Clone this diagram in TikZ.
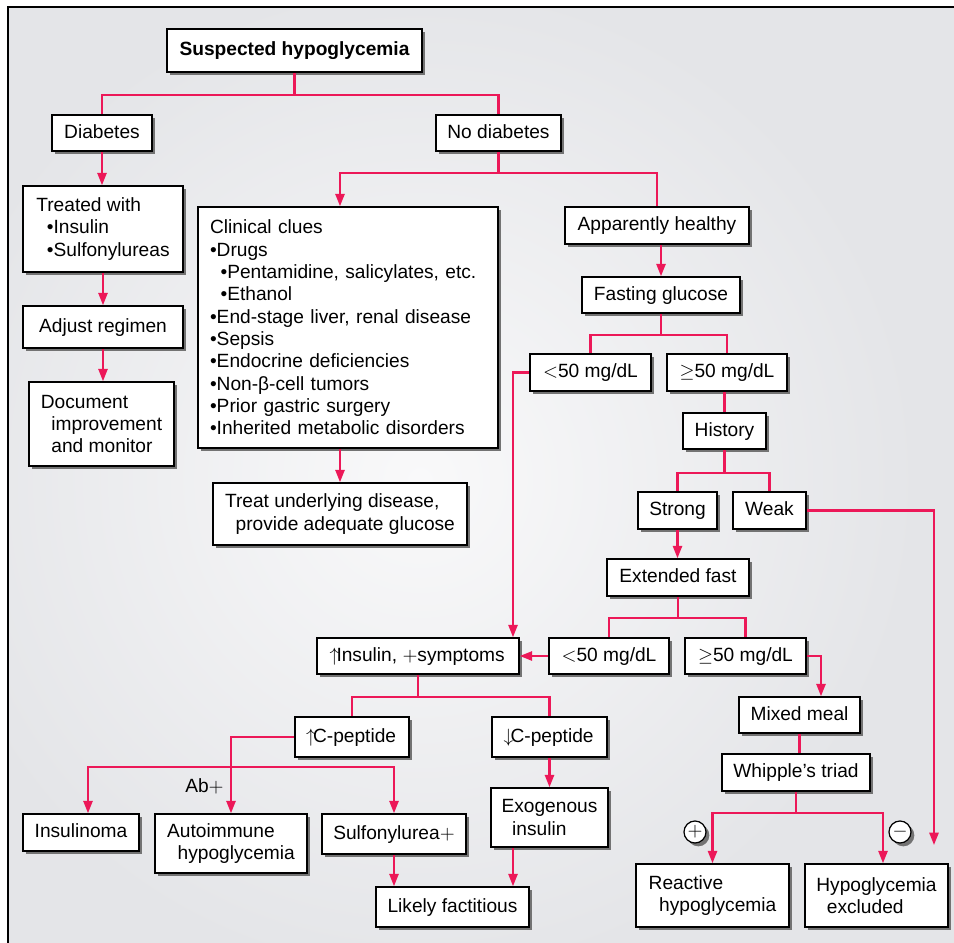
\documentclass[tikz,border=0pt]{standalone}
\usepackage{fontspec}
\setmainfont{Liberation Sans}
\usetikzlibrary{arrows.meta,shadows}

\definecolor{hred}{RGB}{236,24,88}
\definecolor{bggray}{RGB}{228,229,232}
\definecolor{bglight}{RGB}{249,249,250}
\newcommand\boxfont{\fontsize{10.9pt}{12.7pt}\selectfont}
\newcommand\ind{\hspace*{6pt}}
\newcommand\uparr{\kern-1pt$\uparrow$\kern-1.5pt}
\newcommand\dnarr{\kern-1pt$\downarrow$\kern-1.5pt}

\begin{document}
\begin{tikzpicture}[x=0.02cm, y=-0.02cm,
    shade box/.style={drop shadow={shadow xshift=1.9pt, shadow yshift=-1.9pt, fill=black!55, opacity=1}},
    box/.style={draw, fill=white, line width=0.9pt, inner sep=0pt, font=\boxfont, shade box},
    sbox/.style={box, text height=8pt, text depth=2pt},
    mbox/.style={box, align=left},
    dims/.style 2 args={minimum width=#1cm, minimum height=#2cm},
    sign/.style={circle, draw, fill=white, line width=0.7pt, minimum size=0.44cm, inner sep=0pt, font=\boxfont, shade box},
    redline/.style={draw=hred, line width=1.2pt},
    redarrow/.style={redline, -{Triangle[length=7pt, width=5.2pt]}}]
\useasboundingbox (0,0) rectangle (954,943);

% backdrop
\fill[bggray] (8,7) rectangle (954,943);
\begin{scope}
  \clip (8,7) rectangle (954,943);
  \shade[inner color=bglight, outer color=bggray] (420,480) circle (10cm);
\end{scope}
\draw[line width=0.9pt] (8,943) -- (8,7) -- (954,7);

% left column
\node[sbox, font=\boxfont\bfseries, dims={5.1}{0.86}] (title) at (294.5,50.5) {Suspected hypoglycemia};
\node[sbox, dims={2}{0.72}] (diab) at (102,133) {Diabetes};
\node[sbox, dims={2.5}{0.72}] (nodiab) at (498.5,133) {No diabetes};
\node[mbox, dims={3.2}{1.72}] (treated) at (103,229) {Treated with\\\ind{}•Insulin\\\ind{}•Sulfonylureas};
\node[sbox, dims={3.2}{0.84}] (adjust) at (103,327) {Adjust regimen};
\node[mbox, dims={2.9}{1.68}] (document) at (101.5,424) {Document\\\ind improvement\\\ind and monitor};
\node[mbox, dims={6}{4.82}, inner xsep=0.24cm, text width=5.52cm] (clues) at (348,327.5)
  {Clinical clues\\•Drugs\\\ind{}•Pentamidine, salicylates, etc.\\\ind{}•Ethanol\\•End-stage liver, renal disease\\•Sepsis\\•Endocrine deficiencies\\•Non-β-cell tumors\\•Prior gastric surgery\\•Inherited metabolic disorders};
\node[mbox, dims={5.08}{1.24}] (treat) at (340,514) {Treat underlying disease,\\\ind provide adequate glucose};

% fasting work-up
\node[sbox, dims={3.68}{0.74}] (healthy) at (657,225.5) {Apparently healthy};
\node[sbox, dims={3.16}{0.72}] (fasting) at (661,295) {Fasting glucose};
\node[sbox, dims={2.42}{0.74}] (lowA) at (590.5,372.5) {$<$50 mg/dL};
\node[sbox, dims={2.4}{0.74}] (highA) at (727,372.5) {$\geq$50 mg/dL};
\node[sbox, dims={1.66}{0.72}] (history) at (724.5,431) {History};
\node[sbox, dims={1.58}{0.74}] (strong) at (677.5,510.5) {Strong};
\node[sbox, dims={1.46}{0.74}] (weak) at (769.5,510.5) {Weak};
\node[sbox, dims={2.84}{0.74}] (extfast) at (678,577.5) {Extended fast};
\node[sbox, dims={2.4}{0.72}] (lowB) at (609,656) {$<$50 mg/dL};
\node[sbox, dims={2.42}{0.72}] (highB) at (745.5,656) {$\geq$50 mg/dL};
\node[sbox, dims={2.42}{0.72}] (mixed) at (799.5,715) {Mixed meal};
\node[sbox, dims={2.96}{0.74}] (whipple) at (796,772.5) {Whipple’s triad};
\node[mbox, dims={3.06}{1.26}] (reactive) at (712.5,895.5) {Reactive\\\ind hypoglycemia};
\node[mbox, dims={2.86}{1.26}] (excluded) at (876.5,895.5) {Hypoglycemia\\\ind excluded};
\node[sign] (plus) at (695,832) {$+$};
\node[sign] (minus) at (900,832) {$-$};

% insulin work-up
\node[sbox, dims={4.04}{0.72}] (insulin) at (418,656) {\uparr Insulin, $+$symptoms};
\node[sbox, dims={2.28}{0.8}] (cpepup) at (352,737) {\uparr C-peptide};
\node[sbox, dims={2.3}{0.8}] (cpepdown) at (549.5,737) {\dnarr C-peptide};
\node[sbox, dims={2.32}{0.74}] (insulinoma) at (81,832.5) {Insulinoma};
\node[mbox, dims={3.04}{1.18}] (autoimm) at (231,843.5) {Autoimmune\\\ind hypoglycemia};
\node[sbox, dims={2.88}{0.8}] (sulfo) at (394,834) {Sulfonylurea$+$};
\node[mbox, dims={2.34}{1.18}] (exog) at (549.5,817.5) {Exogenous\\\ind insulin};
\node[sbox, dims={3.06}{0.8}] (likely) at (452.5,907) {Likely factitious};
\node[font=\boxfont, anchor=east, inner sep=0pt] (ablbl) at (224,786) {Ab$+$};

\coordinate (xcol) at (513,0);
\coordinate (wend) at (934,845);
\coordinate (c0) at (231,767);

% connectors
\draw[redline] (title.south) -- ++(0,22) coordinate (t0) -| (diab.north);
\draw[redline] (t0) -| (nodiab.north);
\draw[redarrow] (diab.south) -- (diab.south |- treated.north);
\draw[redarrow] (treated.south) -- (treated.south |- adjust.north);
\draw[redarrow] (adjust.south) -- (adjust.south |- document.north);
\draw[redline] (nodiab.south) -- ++(0,21) coordinate (n0) -| (healthy.north);
\draw[redarrow] (n0) -| (treat.north |- clues.north);
\draw[redarrow] (clues.south -| treat.north) -- (treat.north);
\draw[redarrow] (healthy.south -| fasting.north) -- (fasting.north);
\draw[redline] (fasting.south) -- ++(0,21) coordinate (f0) -| (lowA.north);
\draw[redline] (f0) -| (highA.north);
\draw[redarrow] (lowA.west) -| (insulin.north -| xcol);
\draw[redline] (highA.south -| history.north) -- (history.north);
\draw[redline] (history.south) -- ++(0,23) coordinate (h0) -| (strong.north);
\draw[redline] (h0) -| (weak.north);
\draw[redarrow] (weak.east) -| (wend);
\draw[redarrow] (strong.south) -- (strong.south |- extfast.north);
\draw[redline] (extfast.south) -- ++(0,21) coordinate (e0) -| (lowB.north);
\draw[redline] (e0) -| (highB.north);
\draw[redarrow] (lowB.west) -- (insulin.east);
\draw[redarrow] (highB.east) -| ([xshift=0.43cm]mixed.north);
\draw[redline] (mixed.south) -- (mixed.south |- whipple.north);
\draw[redline] (whipple.south) -- ++(0,21) coordinate (w0);
\draw[redarrow] (w0) -| (reactive.north);
\draw[redarrow] (w0) -| ([xshift=0.13cm]excluded.north);
\draw[redline] (insulin.south) -- ++(0,22) coordinate (i0) -| (cpepup.north);
\draw[redline] (i0) -| (cpepdown.north);
\draw[redarrow] (cpepup.west) -| (autoimm.north);
\draw[redarrow] (c0) -| ([xshift=0.14cm]insulinoma.north);
\draw[redarrow] (c0) -| (sulfo.north);
\draw[redarrow] (sulfo.south) -- (sulfo.south |- likely.north);
\draw[redarrow] (cpepdown.south) -- (cpepdown.south |- exog.north);
\draw[redarrow] (exog.south -| xcol) -- (likely.north -| xcol);
\end{tikzpicture}
\end{document}
